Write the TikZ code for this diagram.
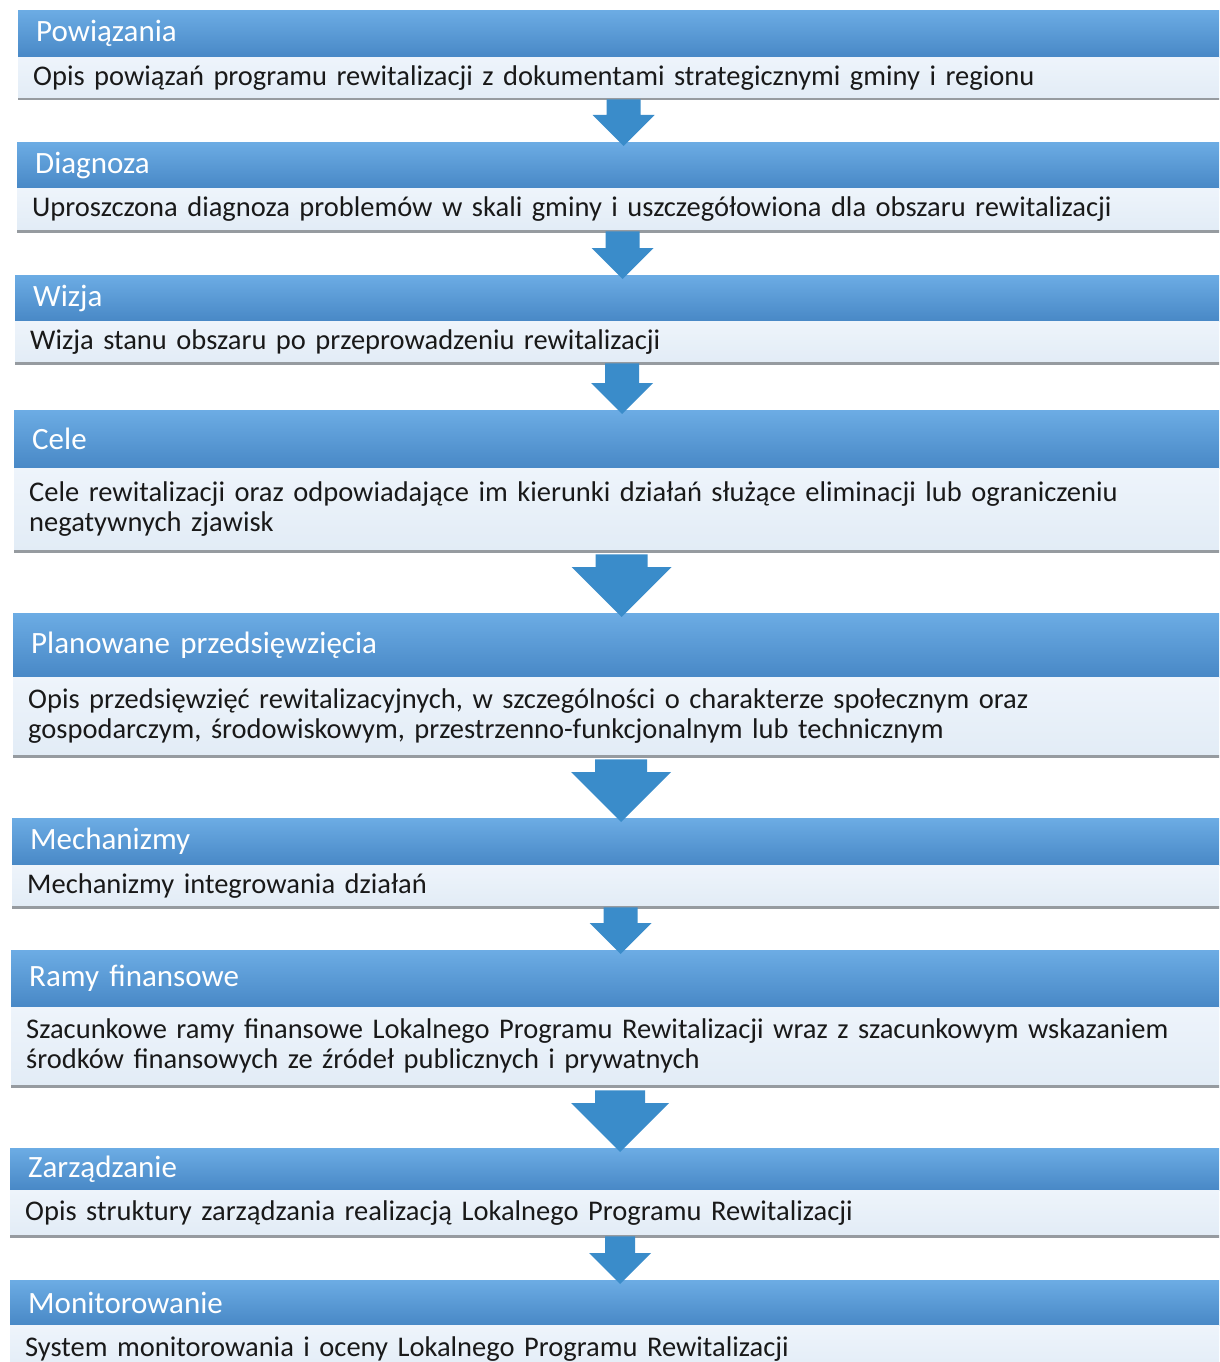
\documentclass[tikz,border=0pt]{standalone}
\usepackage{fontspec}
\setmainfont{Carlito}
\usetikzlibrary{calc}
\definecolor{hdrtop}{RGB}{108,172,228}
\definecolor{hdrbot}{RGB}{72,136,198}
\definecolor{bodyc}{RGB}{238,244,251}
\definecolor{bodyb}{RGB}{226,236,246}
\definecolor{arrowc}{RGB}{58,140,202}
\definecolor{shadowc}{RGB}{150,155,160}
\tikzset{
  hdr/.style={anchor=north west, top color=hdrtop, bottom color=hdrbot, draw=none,
    text=white, font=\fontsize{31}{34}\selectfont, inner xsep=18pt, inner ysep=0pt, align=left},
  bodybox/.style={anchor=north west, top color=bodyc, bottom color=bodyb, draw=none,
    text=black!90, font=\fontsize{28.5}{30}\selectfont, inner xsep=15pt, inner ysep=0pt, align=left},
  shadowline/.style={draw=shadowc, line width=2.2pt},
  blockarrow/.style={fill=arrowc, draw=none}
}
% #1 name, #2 left x, #3 header top, #4 header bottom, #5 body bottom, #6 title, #7 body
\newcommand\mystage[7]{%
  \node[hdr, minimum height={#4-#3}, text width={1230-#2-36}] (h#1) at (#2,#3) {#6};
  \node[bodybox, minimum height={#5-#4}, text width={1230-#2-30}] (b#1) at (#2,#4) {#7};
  \draw[shadowline] ([yshift=-1pt]b#1.south west) -- ([yshift=-1pt]b#1.south east);
}
% #1 from body node, #2 to header node, #3 shaft half width, #4 head half width, #5 head length, #6 gap at top
\newcommand\myarrow[6]{%
  \fill[blockarrow] let \p1=(#1.south), \p2=(#2.north) in
    (\x2-#3pt,\y1-#6pt) -- (\x2+#3pt,\y1-#6pt) -- (\x2+#3pt,\y2+#5pt-4pt) -- (\x2+#4pt,\y2+#5pt-4pt)
    -- (\x2,\y2-4pt) -- (\x2-#4pt,\y2+#5pt-4pt) -- (\x2-#3pt,\y2+#5pt-4pt) -- cycle;
}
\begin{document}
\begin{tikzpicture}[x=1pt,y=-1pt]
\useasboundingbox (0,0) rectangle (1219,1362);
\fill[white] (0,0) rectangle (1219,1362);
\begin{scope}
\clip (0,0) rectangle (1219,1362);
\mystage{1}{18}{10}{57}{98}{Powiązania}{Opis powiązań programu rewitalizacji z dokumentami strategicznymi gminy i regionu}
\mystage{2}{17}{142}{188}{230}{Diagnoza}{Uproszczona diagnoza problemów w skali gminy i uszczegółowiona dla obszaru rewitalizacji}
\mystage{3}{15}{275}{321}{362}{Wizja}{Wizja stanu obszaru po przeprowadzeniu rewitalizacji}
\mystage{4}{14}{410}{468}{550}{Cele}{Cele rewitalizacji oraz odpowiadające im kierunki działań służące eliminacji lub ograniczeniu\\negatywnych zjawisk}
\mystage{5}{13}{613}{677}{755}{Planowane przedsięwzięcia}{Opis przedsięwzięć rewitalizacyjnych, w szczególności o charakterze społecznym oraz\\gospodarczym, środowiskowym, przestrzenno-funkcjonalnym lub technicznym}
\mystage{6}{12}{818}{865}{906}{Mechanizmy}{Mechanizmy integrowania działań}
\mystage{7}{11}{950}{1007}{1085}{Ramy finansowe}{Szacunkowe ramy finansowe Lokalnego Programu Rewitalizacji wraz z szacunkowym wskazaniem\\środków finansowych ze źródeł publicznych i prywatnych}
\mystage{8}{10}{1148}{1190}{1235}{Zarządzanie}{Opis struktury zarządzania realizacją Lokalnego Programu Rewitalizacji}
\mystage{9}{10}{1280}{1325}{1372}{Monitorowanie}{System monitorowania i oceny Lokalnego Programu Rewitalizacji}
\myarrow{b1}{h2}{17}{31}{31}{1}
\myarrow{b2}{h3}{17}{31}{31}{1}
\myarrow{b3}{h4}{17}{31}{31}{1}
\myarrow{b4}{h5}{26}{50}{50}{4}
\myarrow{b5}{h6}{26}{50}{50}{4}
\myarrow{b6}{h7}{17}{31}{31}{1}
\myarrow{b7}{h8}{25}{49}{49}{5}
\myarrow{b8}{h9}{15}{31}{31}{1}
\end{scope}
\end{tikzpicture}
\end{document}
